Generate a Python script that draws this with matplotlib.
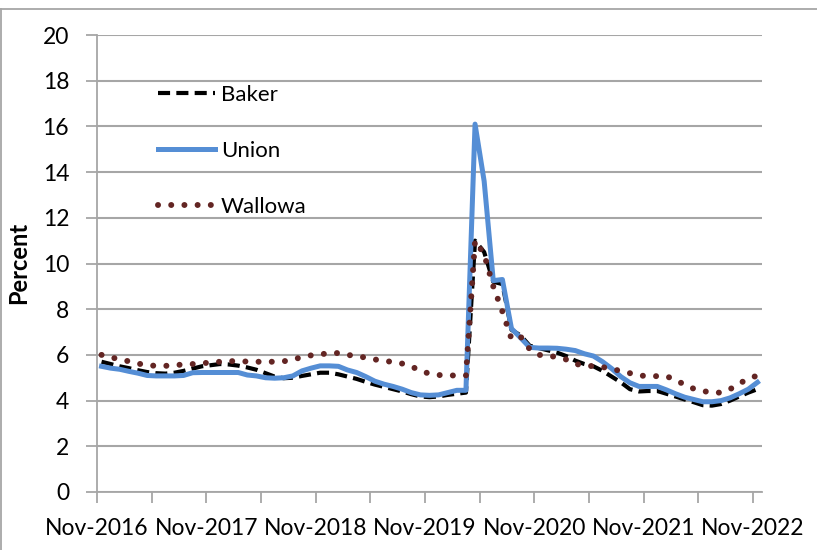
import numpy as np
from matplotlib import pyplot as plt
from matplotlib.lines import Line2D

# DATA (monthly unemployment rate, Nov-2016 .. Nov-2022)
baker = [5.7, 5.6, 5.5, 5.42, 5.33, 5.25, 5.2, 5.18, 5.22, 5.3,
         5.4, 5.5, 5.55, 5.6, 5.58, 5.53, 5.45, 5.35, 5.2, 5.05,
         4.98, 5.0, 5.08, 5.15, 5.22, 5.22, 5.15, 5.05, 4.95, 4.82,
         4.7, 4.6, 4.5, 4.4, 4.28, 4.18, 4.15, 4.18, 4.25, 4.3,
         4.35, 11.0, 10.5, 9.2, 9.1, 7.1, 6.85, 6.4, 6.3, 6.2,
         6.1, 5.95, 5.75, 5.6, 5.5, 5.3, 5.05, 4.8, 4.5, 4.4,
         4.42, 4.42, 4.3, 4.18, 4.05, 3.93, 3.8, 3.78, 3.85, 4.0,
         4.18, 4.35, 4.5]
union = [5.5, 5.42, 5.37, 5.28, 5.2, 5.1, 5.08, 5.08, 5.08, 5.1,
         5.22, 5.23, 5.23, 5.23, 5.23, 5.23, 5.12, 5.08, 5.0, 4.98,
         5.0, 5.08, 5.3, 5.42, 5.52, 5.52, 5.5, 5.34, 5.23, 5.05,
         4.85, 4.72, 4.62, 4.5, 4.35, 4.25, 4.23, 4.25, 4.35, 4.45,
         4.45, 16.1, 13.6, 9.25, 9.3, 7.15, 6.75, 6.33, 6.3, 6.3,
         6.29, 6.25, 6.19, 6.05, 5.95, 5.7, 5.4, 5.05, 4.78, 4.62,
         4.62, 4.62, 4.47, 4.3, 4.15, 4.05, 3.95, 3.95, 4.0, 4.12,
         4.3, 4.5, 4.8]
wallowa = [6.0, 5.9, 5.8, 5.72, 5.62, 5.55, 5.52, 5.52, 5.55, 5.58,
           5.6, 5.63, 5.67, 5.7, 5.73, 5.72, 5.71, 5.7, 5.7, 5.7,
           5.72, 5.8, 5.9, 5.98, 6.02, 6.08, 6.08, 6.0, 5.95, 5.88,
           5.8, 5.74, 5.69, 5.62, 5.5, 5.3, 5.18, 5.12, 5.1, 5.1,
           5.1, 11.0, 10.4, 9.0, 7.9, 6.7, 6.8, 6.25, 6.0, 5.97,
           5.9, 5.8, 5.6, 5.55, 5.5, 5.47, 5.38, 5.3, 5.2, 5.1,
           5.07, 5.07, 5.07, 4.9, 4.7, 4.52, 4.42, 4.35, 4.35, 4.5,
           4.75, 4.95, 5.1]
tick_labels = ["Nov-2016", "Nov-2017", "Nov-2018", "Nov-2019",
               "Nov-2020", "Nov-2021", "Nov-2022"]

plt.rcParams['font.family'] = ['Lato', 'DejaVu Sans']

fig = plt.figure(figsize=(8.17, 5.5), dpi=100)
ax = fig.add_axes([97 / 817, 58 / 550, 665 / 817, 457 / 550])

n = len(union)
x = np.arange(n) + 0.5  # category axis, points between tick marks
grid_col = '#a6a6a6'

ax.plot(x, baker, color='black', lw=3.0, linestyle=(0, (2.9, 1.5)), label='Baker')
ax.plot(x, union, color='#558ed5', lw=3.6, solid_joinstyle='round', label='Union')
ax.plot(x, wallowa, color='#632523', lw=4.3, linestyle=(0, (0.01, 2.2)),
        dash_capstyle='round', label='Wallowa')

# AXES
ax.set_xlim(0, n)
ax.set_ylim(0, 20)
ax.set_yticks(range(0, 21, 2))
ax.set_xticks(range(0, n, 12))
ax.set_xticklabels(tick_labels)
ax.set_xticks(range(6, n, 12), minor=True)
ax.grid(axis='y', color=grid_col, lw=1.5)
ax.set_axisbelow(True)
for s in ['top', 'right']:
    ax.spines[s].set_visible(False)
for s in ['left', 'bottom']:
    ax.spines[s].set_color(grid_col)
    ax.spines[s].set_linewidth(1.3)
ax.tick_params(axis='both', which='both', color=grid_col, width=1.3, length=8,
               labelsize=16.5, labelcolor='black')
ax.tick_params(axis='y', pad=12)
ax.tick_params(axis='x', pad=11)

fig.text(19 / 817, 1 - 263 / 550, 'Percent', rotation=90, ha='center', va='center',
         fontsize=17, fontweight='bold')

leg = ax.legend(loc='upper left', bbox_to_anchor=(61 / 665, 1 - 50 / 457), frameon=False,
                fontsize=16, handlelength=2.55, handletextpad=0.28, labelspacing=1.62,
                borderaxespad=0, borderpad=0)

# chart border (left and top edge)
fig.add_artist(Line2D([0.6 / 817, 0.6 / 817], [0, 1 - 9 / 550], color=grid_col, lw=1.3))
fig.add_artist(Line2D([0, 1], [1 - 9 / 550, 1 - 9 / 550], color=grid_col, lw=1.3))

fig.savefig('out.png', dpi=100)
